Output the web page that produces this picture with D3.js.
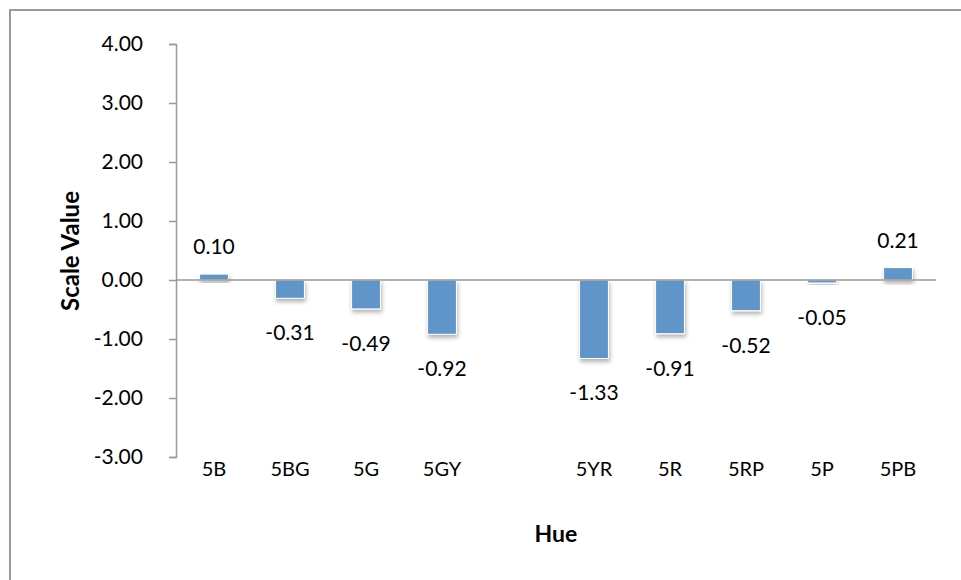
<!DOCTYPE html>
<html>
<head>
<meta charset="utf-8">
<script src="https://cdn.jsdelivr.net/npm/d3@7"></script>
<style>
  body { margin: 0; background: #fff; }
  svg { display: block; font-family: Lato, "Open Sans", sans-serif; }
</style>
</head>
<body>
<svg id="chart"></svg>
<script>
(function() {

// hue categories ("" is the empty slot between 5GY and 5YR)
var hues = ['5B', '5BG', '5G', '5GY', '', '5YR', '5R', '5RP', '5P', '5PB'];
var scaleValues = [0.10, -0.31, -0.49, -0.92, null, -1.33, -0.91, -0.52, -0.05, 0.21];
var yTicks = [4, 3, 2, 1, 0, -1, -2, -3];

var full_width = 961, full_height = 580;

var svg = d3.select("#chart")
    .attr("width", full_width)
    .attr("height", full_height);

// outer chart border (right / bottom run off the picture)
svg.append("rect")
    .attr("x", 10).attr("y", 10)
    .attr("width", 980).attr("height", 600)
    .attr("fill", "none")
    .attr("stroke", "#9a9a9a")
    .attr("stroke-width", 2);

var defs = svg.append("defs");
var f = defs.append("filter").attr("id", "shadow")
    .attr("x", "-20%").attr("y", "-20%").attr("width", "150%").attr("height", "160%");
f.append("feDropShadow")
    .attr("dx", 1).attr("dy", 3).attr("stdDeviation", 2)
    .attr("flood-color", "#000").attr("flood-opacity", 0.3);

var x = d3.scaleBand()
    .domain(d3.range(hues.length))
    .range([176, 936])
    .paddingInner(0.62)
    .paddingOuter(0.31);

var y = d3.scaleLinear()
    .domain([-3, 4])
    .range([457, 44]);

var fmt = function(v) { return v.toFixed(2); }; // plain hyphen minus like Excel

// y axis
var yAxis = svg.append("g")
    .attr("transform", "translate(176,0)")
    .call(d3.axisLeft(y).tickValues(yTicks).tickSize(7).tickPadding(26)
      .tickFormat(fmt));
yAxis.select(".domain").attr("stroke", "#999").attr("stroke-width", 1.5);
yAxis.selectAll(".tick line").attr("stroke", "#999").attr("stroke-width", 1.5);
yAxis.selectAll(".tick text")
    .attr("font-size", 21)
    .attr("fill", "#000")
    .style("font-family", "Lato, 'Open Sans', sans-serif");

// bars
var data = hues.map(function(h, i) { return { hue: h, value: scaleValues[i], i: i }; })
    .filter(function(d) { return d.value !== null; });

svg.append("g").selectAll("rect")
    .data(data)
    .enter().append("rect")
    .attr("x", function(d) { return x(d.i); })
    .attr("width", x.bandwidth())
    .attr("y", function(d) { return y(Math.max(0, d.value)); })
    .attr("height", function(d) { return Math.abs(y(d.value) - y(0)); })
    .attr("fill", "#6095c9")
    .attr("stroke", "#fff")
    .attr("stroke-width", 1)
    .attr("filter", "url(#shadow)");

// zero line
svg.append("line")
    .attr("x1", 176).attr("x2", 936)
    .attr("y1", y(0)).attr("y2", y(0))
    .attr("stroke", "#999")
    .attr("stroke-width", 1.5);

// value labels
svg.append("g").selectAll("text")
    .data(data)
    .enter().append("text")
    .attr("x", function(d) { return x(d.i) + x.bandwidth() / 2; })
    .attr("y", function(d) {
      return d.value >= 0 ? y(d.value) - 20 : y(d.value) + 42;
    })
    .attr("text-anchor", "middle")
    .attr("font-size", 21)
    .text(function(d) { return fmt(d.value); });

// category labels
svg.append("g").selectAll("text")
    .data(hues)
    .enter().append("text")
    .attr("x", function(d, i) { return x(i) + x.bandwidth() / 2; })
    .attr("y", 476)
    .attr("text-anchor", "middle")
    .attr("font-size", 20)
    .text(function(d) { return d; });

// axis titles
svg.append("text")
    .attr("x", 556).attr("y", 542)
    .attr("text-anchor", "middle")
    .attr("font-size", 23)
    .attr("font-weight", "bold")
    .text("Hue");

svg.append("text")
    .attr("transform", "translate(79,251) rotate(-90)")
    .attr("text-anchor", "middle")
    .attr("font-size", 24)
    .attr("font-weight", "bold")
    .text("Scale Value");

})();
</script>
</body>
</html>
